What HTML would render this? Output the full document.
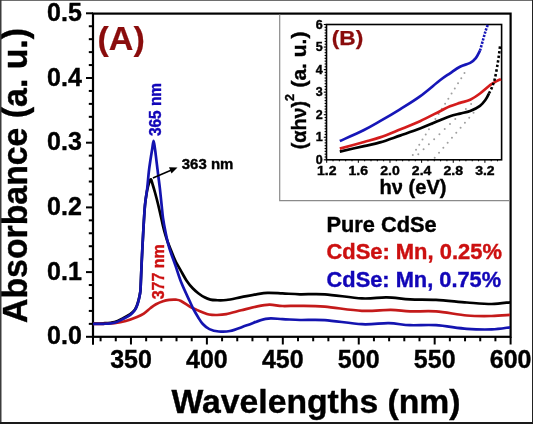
<!DOCTYPE html>
<html><head><meta charset="utf-8"><style>
html,body{margin:0;padding:0;background:#fff;}
body{width:533px;height:424px;overflow:hidden;position:relative;}
svg{position:absolute;left:0;top:0;will-change:transform;}
text{font-family:"Liberation Sans",sans-serif;font-weight:bold;stroke:#000;stroke-width:0.4px;}
</style></head><body>
<svg width="533" height="424" viewBox="0 0 533 424">
<rect x="0" y="0" width="533" height="424" fill="#fff"/>
<line x1="86" y1="336.80" x2="93.0" y2="336.80" stroke="#000" stroke-width="2"/>
<line x1="88.8" y1="323.86" x2="93.0" y2="323.86" stroke="#000" stroke-width="2"/>
<line x1="88.8" y1="310.92" x2="93.0" y2="310.92" stroke="#000" stroke-width="2"/>
<line x1="88.8" y1="297.98" x2="93.0" y2="297.98" stroke="#000" stroke-width="2"/>
<line x1="88.8" y1="285.04" x2="93.0" y2="285.04" stroke="#000" stroke-width="2"/>
<line x1="86" y1="272.10" x2="93.0" y2="272.10" stroke="#000" stroke-width="2"/>
<line x1="88.8" y1="259.16" x2="93.0" y2="259.16" stroke="#000" stroke-width="2"/>
<line x1="88.8" y1="246.22" x2="93.0" y2="246.22" stroke="#000" stroke-width="2"/>
<line x1="88.8" y1="233.28" x2="93.0" y2="233.28" stroke="#000" stroke-width="2"/>
<line x1="88.8" y1="220.34" x2="93.0" y2="220.34" stroke="#000" stroke-width="2"/>
<line x1="86" y1="207.40" x2="93.0" y2="207.40" stroke="#000" stroke-width="2"/>
<line x1="88.8" y1="194.46" x2="93.0" y2="194.46" stroke="#000" stroke-width="2"/>
<line x1="88.8" y1="181.52" x2="93.0" y2="181.52" stroke="#000" stroke-width="2"/>
<line x1="88.8" y1="168.58" x2="93.0" y2="168.58" stroke="#000" stroke-width="2"/>
<line x1="88.8" y1="155.64" x2="93.0" y2="155.64" stroke="#000" stroke-width="2"/>
<line x1="86" y1="142.70" x2="93.0" y2="142.70" stroke="#000" stroke-width="2"/>
<line x1="88.8" y1="129.76" x2="93.0" y2="129.76" stroke="#000" stroke-width="2"/>
<line x1="88.8" y1="116.82" x2="93.0" y2="116.82" stroke="#000" stroke-width="2"/>
<line x1="88.8" y1="103.88" x2="93.0" y2="103.88" stroke="#000" stroke-width="2"/>
<line x1="88.8" y1="90.94" x2="93.0" y2="90.94" stroke="#000" stroke-width="2"/>
<line x1="86" y1="78.00" x2="93.0" y2="78.00" stroke="#000" stroke-width="2"/>
<line x1="88.8" y1="65.06" x2="93.0" y2="65.06" stroke="#000" stroke-width="2"/>
<line x1="88.8" y1="52.12" x2="93.0" y2="52.12" stroke="#000" stroke-width="2"/>
<line x1="88.8" y1="39.18" x2="93.0" y2="39.18" stroke="#000" stroke-width="2"/>
<line x1="88.8" y1="26.24" x2="93.0" y2="26.24" stroke="#000" stroke-width="2"/>
<line x1="86" y1="13.30" x2="93.0" y2="13.30" stroke="#000" stroke-width="2"/>
<line x1="100.59" y1="336.8" x2="100.59" y2="341.3" stroke="#000" stroke-width="2"/>
<line x1="115.78" y1="336.8" x2="115.78" y2="341.3" stroke="#000" stroke-width="2"/>
<line x1="130.96" y1="336.8" x2="130.96" y2="344.5" stroke="#000" stroke-width="2"/>
<line x1="146.15" y1="336.8" x2="146.15" y2="341.3" stroke="#000" stroke-width="2"/>
<line x1="161.33" y1="336.8" x2="161.33" y2="341.3" stroke="#000" stroke-width="2"/>
<line x1="176.52" y1="336.8" x2="176.52" y2="341.3" stroke="#000" stroke-width="2"/>
<line x1="191.71" y1="336.8" x2="191.71" y2="341.3" stroke="#000" stroke-width="2"/>
<line x1="206.89" y1="336.8" x2="206.89" y2="344.5" stroke="#000" stroke-width="2"/>
<line x1="222.08" y1="336.8" x2="222.08" y2="341.3" stroke="#000" stroke-width="2"/>
<line x1="237.26" y1="336.8" x2="237.26" y2="341.3" stroke="#000" stroke-width="2"/>
<line x1="252.45" y1="336.8" x2="252.45" y2="341.3" stroke="#000" stroke-width="2"/>
<line x1="267.63" y1="336.8" x2="267.63" y2="341.3" stroke="#000" stroke-width="2"/>
<line x1="282.82" y1="336.8" x2="282.82" y2="344.5" stroke="#000" stroke-width="2"/>
<line x1="298.00" y1="336.8" x2="298.00" y2="341.3" stroke="#000" stroke-width="2"/>
<line x1="313.19" y1="336.8" x2="313.19" y2="341.3" stroke="#000" stroke-width="2"/>
<line x1="328.37" y1="336.8" x2="328.37" y2="341.3" stroke="#000" stroke-width="2"/>
<line x1="343.56" y1="336.8" x2="343.56" y2="341.3" stroke="#000" stroke-width="2"/>
<line x1="358.75" y1="336.8" x2="358.75" y2="344.5" stroke="#000" stroke-width="2"/>
<line x1="373.93" y1="336.8" x2="373.93" y2="341.3" stroke="#000" stroke-width="2"/>
<line x1="389.12" y1="336.8" x2="389.12" y2="341.3" stroke="#000" stroke-width="2"/>
<line x1="404.30" y1="336.8" x2="404.30" y2="341.3" stroke="#000" stroke-width="2"/>
<line x1="419.49" y1="336.8" x2="419.49" y2="341.3" stroke="#000" stroke-width="2"/>
<line x1="434.67" y1="336.8" x2="434.67" y2="344.5" stroke="#000" stroke-width="2"/>
<line x1="449.86" y1="336.8" x2="449.86" y2="341.3" stroke="#000" stroke-width="2"/>
<line x1="465.04" y1="336.8" x2="465.04" y2="341.3" stroke="#000" stroke-width="2"/>
<line x1="480.23" y1="336.8" x2="480.23" y2="341.3" stroke="#000" stroke-width="2"/>
<line x1="495.41" y1="336.8" x2="495.41" y2="341.3" stroke="#000" stroke-width="2"/>
<line x1="510.60" y1="336.8" x2="510.60" y2="344.5" stroke="#000" stroke-width="2"/>
<line x1="93.0" y1="336.8" x2="93.0" y2="344.8" stroke="#000" stroke-width="2"/>
<rect x="93.0" y="13.6" width="417.6" height="323.2" fill="none" stroke="#000" stroke-width="2.2"/>
<text x="81.8" y="344.4" text-anchor="end" font-size="25">0.0</text>
<text x="81.8" y="279.7" text-anchor="end" font-size="25">0.1</text>
<text x="81.8" y="215.0" text-anchor="end" font-size="25">0.2</text>
<text x="81.8" y="150.3" text-anchor="end" font-size="25">0.3</text>
<text x="81.8" y="85.6" text-anchor="end" font-size="25">0.4</text>
<text x="81.8" y="20.9" text-anchor="end" font-size="25">0.5</text>
<text x="131.0" y="368" text-anchor="middle" font-size="25">350</text>
<text x="206.9" y="368" text-anchor="middle" font-size="25">400</text>
<text x="282.8" y="368" text-anchor="middle" font-size="25">450</text>
<text x="358.7" y="368" text-anchor="middle" font-size="25">500</text>
<text x="434.7" y="368" text-anchor="middle" font-size="25">550</text>
<text x="510.6" y="368" text-anchor="middle" font-size="25">600</text>
<text x="171.5" y="412.7" font-size="33.6" textLength="289" lengthAdjust="spacingAndGlyphs">Wavelengths (nm)</text>
<text transform="translate(26.8,323) rotate(-90)" x="0" y="0" font-size="34.4" textLength="295" lengthAdjust="spacingAndGlyphs">Absorbance (a. u.)</text>
<path d="M93.00,323.50 C94.72,323.47 99.72,323.55 103.30,323.30 C106.88,323.05 111.13,322.88 114.50,322.00 C117.87,321.12 120.87,319.30 123.50,318.00 C126.13,316.70 128.42,315.57 130.30,314.20 C132.18,312.83 133.68,311.28 134.80,309.80 C135.92,308.32 136.35,307.00 137.00,305.30 C137.65,303.60 138.22,301.48 138.70,299.60 C139.18,297.72 139.58,295.93 139.90,294.00 C140.22,292.07 140.30,293.33 140.60,288.00 C140.90,282.67 141.25,271.50 141.70,262.00 C142.15,252.50 142.75,240.50 143.30,231.00 C143.85,221.50 144.38,211.67 145.00,205.00 C145.62,198.33 146.33,194.67 147.00,191.00 C147.67,187.33 148.35,184.95 149.00,183.00 C149.65,181.05 150.27,178.97 150.90,179.30 C151.53,179.63 152.12,182.80 152.80,185.00 C153.48,187.20 154.13,189.33 155.00,192.50 C155.87,195.67 157.00,199.92 158.00,204.00 C159.00,208.08 160.00,212.67 161.00,217.00 C162.00,221.33 163.00,226.17 164.00,230.00 C165.00,233.83 166.00,237.05 167.00,240.00 C168.00,242.95 169.05,245.28 170.00,247.70 C170.95,250.12 171.78,252.28 172.70,254.50 C173.62,256.72 174.13,258.28 175.50,261.00 C176.87,263.72 179.02,267.47 180.90,270.80 C182.78,274.13 184.83,278.08 186.80,281.00 C188.77,283.92 190.73,286.22 192.70,288.30 C194.67,290.38 196.63,292.00 198.60,293.50 C200.57,295.00 202.53,296.28 204.50,297.30 C206.47,298.32 208.48,299.12 210.40,299.60 C212.32,300.08 213.35,300.13 216.00,300.20 C218.65,300.27 222.08,300.50 226.30,300.00 C230.52,299.50 236.30,298.13 241.30,297.20 C246.30,296.27 251.93,295.12 256.30,294.40 C260.67,293.68 263.13,293.07 267.50,292.90 C271.87,292.73 277.08,293.17 282.50,293.40 C287.92,293.63 292.95,294.15 300.00,294.30 C307.05,294.45 314.48,293.62 324.80,294.30 C335.12,294.98 351.58,297.88 361.90,298.40 C372.22,298.92 378.68,297.23 386.70,297.40 C394.72,297.57 401.78,298.98 410.00,299.40 C418.22,299.82 426.52,299.38 436.00,299.90 C445.48,300.42 457.62,301.82 466.90,302.50 C476.18,303.18 484.52,304.03 491.70,304.00 C498.88,303.97 506.95,302.58 510.00,302.30" fill="none" stroke="#000" stroke-width="2.7" stroke-linejoin="round"/>
<path d="M93.00,323.80 C94.72,323.80 99.72,323.90 103.30,323.80 C106.88,323.70 110.75,323.67 114.50,323.20 C118.25,322.73 122.05,322.03 125.80,321.00 C129.55,319.97 134.00,318.23 137.00,317.00 C140.00,315.77 141.53,315.10 143.80,313.60 C146.07,312.10 148.57,309.55 150.60,308.00 C152.63,306.45 153.93,305.42 156.00,304.30 C158.07,303.18 160.80,302.03 163.00,301.30 C165.20,300.57 167.03,300.17 169.20,299.90 C171.37,299.63 174.03,299.52 176.00,299.70 C177.97,299.88 178.57,299.78 181.00,301.00 C183.43,302.22 188.10,305.58 190.60,307.00 C193.10,308.42 193.93,308.58 196.00,309.50 C198.07,310.42 200.83,311.67 203.00,312.50 C205.17,313.33 206.68,314.08 209.00,314.50 C211.32,314.92 214.02,315.07 216.90,315.00 C219.78,314.93 222.23,314.88 226.30,314.10 C230.37,313.32 236.30,311.55 241.30,310.30 C246.30,309.05 251.62,307.53 256.30,306.60 C260.98,305.67 265.03,304.80 269.40,304.70 C273.77,304.60 277.40,305.82 282.50,306.00 C287.60,306.18 292.95,305.68 300.00,305.80 C307.05,305.92 314.48,305.87 324.80,306.70 C335.12,307.53 350.90,310.28 361.90,310.80 C372.90,311.32 382.78,309.70 390.80,309.80 C398.82,309.90 402.47,311.13 410.00,311.40 C417.53,311.67 426.52,310.72 436.00,311.40 C445.48,312.08 457.62,314.73 466.90,315.50 C476.18,316.27 484.52,316.10 491.70,316.00 C498.88,315.90 506.95,315.08 510.00,314.90" fill="none" stroke="#c41a1a" stroke-width="2.7" stroke-linejoin="round"/>
<path d="M93.00,323.80 C94.72,323.80 99.72,323.98 103.30,323.80 C106.88,323.62 111.13,323.55 114.50,322.70 C117.87,321.85 120.87,320.02 123.50,318.70 C126.13,317.38 128.42,316.20 130.30,314.80 C132.18,313.40 133.68,311.80 134.80,310.30 C135.92,308.80 136.35,307.50 137.00,305.80 C137.65,304.10 138.22,301.98 138.70,300.10 C139.18,298.22 139.58,296.52 139.90,294.50 C140.22,292.48 140.30,293.42 140.60,288.00 C140.90,282.58 141.25,271.50 141.70,262.00 C142.15,252.50 142.75,240.50 143.30,231.00 C143.85,221.50 144.35,212.07 145.00,205.00 C145.65,197.93 146.57,194.10 147.20,188.60 C147.83,183.10 148.27,176.72 148.80,172.00 C149.33,167.28 149.83,164.13 150.40,160.30 C150.97,156.47 151.67,152.25 152.20,149.00 C152.73,145.75 153.13,140.80 153.60,140.80 C154.07,140.80 154.53,145.75 155.00,149.00 C155.47,152.25 155.87,155.97 156.40,160.30 C156.93,164.63 157.62,170.28 158.20,175.00 C158.78,179.72 159.35,183.77 159.90,188.60 C160.45,193.43 160.98,199.10 161.50,204.00 C162.02,208.90 162.33,213.33 163.00,218.00 C163.67,222.67 164.47,227.05 165.50,232.00 C166.53,236.95 167.55,242.13 169.20,247.70 C170.85,253.27 173.35,259.50 175.40,265.40 C177.45,271.30 179.15,277.20 181.50,283.10 C183.85,289.00 187.52,296.48 189.50,300.80 C191.48,305.12 191.98,306.30 193.40,309.00 C194.82,311.70 196.43,314.50 198.00,317.00 C199.57,319.50 200.90,321.98 202.80,324.00 C204.70,326.02 206.73,327.85 209.40,329.10 C212.07,330.35 215.37,331.18 218.80,331.50 C222.23,331.82 225.32,332.03 230.00,331.00 C234.68,329.97 240.95,327.33 246.90,325.30 C252.85,323.27 259.77,319.83 265.70,318.80 C271.63,317.77 276.78,318.90 282.50,319.10 C288.22,319.30 292.95,319.83 300.00,320.00 C307.05,320.17 314.48,319.40 324.80,320.10 C335.12,320.80 351.23,323.68 361.90,324.20 C372.57,324.72 380.78,323.03 388.80,323.20 C396.82,323.37 402.13,324.87 410.00,325.20 C417.87,325.53 426.52,324.60 436.00,325.20 C445.48,325.80 457.62,328.10 466.90,328.80 C476.18,329.50 484.52,329.65 491.70,329.40 C498.88,329.15 506.95,327.65 510.00,327.30" fill="none" stroke="#1414b0" stroke-width="2.7" stroke-linejoin="round"/>
<text x="97.5" y="49.6" font-size="33" fill="#8a0c0c" style="stroke:#8a0c0c;stroke-width:0.2px" textLength="47.3" lengthAdjust="spacingAndGlyphs">(A)</text>
<text transform="translate(160.6,136) rotate(-90)" font-size="16.3" fill="#1206b8" style="stroke:#1206b8" textLength="53" lengthAdjust="spacingAndGlyphs">365 nm</text>
<text transform="translate(163.9,299.3) rotate(-90)" font-size="16.3" fill="#cc1010" style="stroke:#cc1010" textLength="55" lengthAdjust="spacingAndGlyphs">377 nm</text>
<text x="181.8" y="168.8" font-size="14.8" textLength="51.5" lengthAdjust="spacingAndGlyphs">363 nm</text>
<line x1="152.9" y1="178" x2="171" y2="170.3" stroke="#000" stroke-width="1.5"/>
<polygon points="177.5,167.5 169,167.2 171.5,173.5" fill="#000"/>
<text x="326.4" y="231.7" font-size="21.6" textLength="110.2" lengthAdjust="spacingAndGlyphs">Pure CdSe</text>
<text x="326.4" y="258.7" font-size="21.6" fill="#cc1010" style="stroke:#cc1010" textLength="175.5" lengthAdjust="spacingAndGlyphs">CdSe: Mn, 0.25%</text>
<text x="326.6" y="287" font-size="21.6" fill="#1206b8" style="stroke:#1206b8" textLength="174.5" lengthAdjust="spacingAndGlyphs">CdSe: Mn, 0.75%</text>
<polyline points="279.7,14.5 279.7,200.7 509.5,200.7" fill="none" stroke="#8a8a8a" stroke-width="1.2"/>
<line x1="323.8" y1="159.80" x2="326.5" y2="159.80" stroke="#000" stroke-width="1.1"/>
<line x1="324.6" y1="156.98" x2="326.5" y2="156.98" stroke="#000" stroke-width="1.1"/>
<line x1="324.6" y1="154.16" x2="326.5" y2="154.16" stroke="#000" stroke-width="1.1"/>
<line x1="324.6" y1="151.34" x2="326.5" y2="151.34" stroke="#000" stroke-width="1.1"/>
<line x1="324.6" y1="148.53" x2="326.5" y2="148.53" stroke="#000" stroke-width="1.1"/>
<line x1="324.6" y1="145.71" x2="326.5" y2="145.71" stroke="#000" stroke-width="1.1"/>
<line x1="324.6" y1="142.89" x2="326.5" y2="142.89" stroke="#000" stroke-width="1.1"/>
<line x1="324.6" y1="140.07" x2="326.5" y2="140.07" stroke="#000" stroke-width="1.1"/>
<line x1="323.8" y1="137.25" x2="326.5" y2="137.25" stroke="#000" stroke-width="1.1"/>
<line x1="324.6" y1="134.43" x2="326.5" y2="134.43" stroke="#000" stroke-width="1.1"/>
<line x1="324.6" y1="131.61" x2="326.5" y2="131.61" stroke="#000" stroke-width="1.1"/>
<line x1="324.6" y1="128.79" x2="326.5" y2="128.79" stroke="#000" stroke-width="1.1"/>
<line x1="324.6" y1="125.98" x2="326.5" y2="125.98" stroke="#000" stroke-width="1.1"/>
<line x1="324.6" y1="123.16" x2="326.5" y2="123.16" stroke="#000" stroke-width="1.1"/>
<line x1="324.6" y1="120.34" x2="326.5" y2="120.34" stroke="#000" stroke-width="1.1"/>
<line x1="324.6" y1="117.52" x2="326.5" y2="117.52" stroke="#000" stroke-width="1.1"/>
<line x1="323.8" y1="114.70" x2="326.5" y2="114.70" stroke="#000" stroke-width="1.1"/>
<line x1="324.6" y1="111.88" x2="326.5" y2="111.88" stroke="#000" stroke-width="1.1"/>
<line x1="324.6" y1="109.06" x2="326.5" y2="109.06" stroke="#000" stroke-width="1.1"/>
<line x1="324.6" y1="106.24" x2="326.5" y2="106.24" stroke="#000" stroke-width="1.1"/>
<line x1="324.6" y1="103.43" x2="326.5" y2="103.43" stroke="#000" stroke-width="1.1"/>
<line x1="324.6" y1="100.61" x2="326.5" y2="100.61" stroke="#000" stroke-width="1.1"/>
<line x1="324.6" y1="97.79" x2="326.5" y2="97.79" stroke="#000" stroke-width="1.1"/>
<line x1="324.6" y1="94.97" x2="326.5" y2="94.97" stroke="#000" stroke-width="1.1"/>
<line x1="323.8" y1="92.15" x2="326.5" y2="92.15" stroke="#000" stroke-width="1.1"/>
<line x1="324.6" y1="89.33" x2="326.5" y2="89.33" stroke="#000" stroke-width="1.1"/>
<line x1="324.6" y1="86.51" x2="326.5" y2="86.51" stroke="#000" stroke-width="1.1"/>
<line x1="324.6" y1="83.69" x2="326.5" y2="83.69" stroke="#000" stroke-width="1.1"/>
<line x1="324.6" y1="80.88" x2="326.5" y2="80.88" stroke="#000" stroke-width="1.1"/>
<line x1="324.6" y1="78.06" x2="326.5" y2="78.06" stroke="#000" stroke-width="1.1"/>
<line x1="324.6" y1="75.24" x2="326.5" y2="75.24" stroke="#000" stroke-width="1.1"/>
<line x1="324.6" y1="72.42" x2="326.5" y2="72.42" stroke="#000" stroke-width="1.1"/>
<line x1="323.8" y1="69.60" x2="326.5" y2="69.60" stroke="#000" stroke-width="1.1"/>
<line x1="324.6" y1="66.78" x2="326.5" y2="66.78" stroke="#000" stroke-width="1.1"/>
<line x1="324.6" y1="63.96" x2="326.5" y2="63.96" stroke="#000" stroke-width="1.1"/>
<line x1="324.6" y1="61.14" x2="326.5" y2="61.14" stroke="#000" stroke-width="1.1"/>
<line x1="324.6" y1="58.33" x2="326.5" y2="58.33" stroke="#000" stroke-width="1.1"/>
<line x1="324.6" y1="55.51" x2="326.5" y2="55.51" stroke="#000" stroke-width="1.1"/>
<line x1="324.6" y1="52.69" x2="326.5" y2="52.69" stroke="#000" stroke-width="1.1"/>
<line x1="324.6" y1="49.87" x2="326.5" y2="49.87" stroke="#000" stroke-width="1.1"/>
<line x1="323.8" y1="47.05" x2="326.5" y2="47.05" stroke="#000" stroke-width="1.1"/>
<line x1="324.6" y1="44.23" x2="326.5" y2="44.23" stroke="#000" stroke-width="1.1"/>
<line x1="324.6" y1="41.41" x2="326.5" y2="41.41" stroke="#000" stroke-width="1.1"/>
<line x1="324.6" y1="38.59" x2="326.5" y2="38.59" stroke="#000" stroke-width="1.1"/>
<line x1="324.6" y1="35.77" x2="326.5" y2="35.77" stroke="#000" stroke-width="1.1"/>
<line x1="324.6" y1="32.96" x2="326.5" y2="32.96" stroke="#000" stroke-width="1.1"/>
<line x1="324.6" y1="30.14" x2="326.5" y2="30.14" stroke="#000" stroke-width="1.1"/>
<line x1="324.6" y1="27.32" x2="326.5" y2="27.32" stroke="#000" stroke-width="1.1"/>
<line x1="323.8" y1="24.50" x2="326.5" y2="24.50" stroke="#000" stroke-width="1.1"/>
<line x1="326.70" y1="159.8" x2="326.70" y2="162.8" stroke="#000" stroke-width="1"/>
<line x1="333.03" y1="159.8" x2="333.03" y2="161.3" stroke="#000" stroke-width="1"/>
<line x1="339.36" y1="159.8" x2="339.36" y2="161.3" stroke="#000" stroke-width="1"/>
<line x1="345.68" y1="159.8" x2="345.68" y2="161.3" stroke="#000" stroke-width="1"/>
<line x1="352.01" y1="159.8" x2="352.01" y2="161.3" stroke="#000" stroke-width="1"/>
<line x1="358.34" y1="159.8" x2="358.34" y2="162.8" stroke="#000" stroke-width="1"/>
<line x1="364.67" y1="159.8" x2="364.67" y2="161.3" stroke="#000" stroke-width="1"/>
<line x1="371.00" y1="159.8" x2="371.00" y2="161.3" stroke="#000" stroke-width="1"/>
<line x1="377.32" y1="159.8" x2="377.32" y2="161.3" stroke="#000" stroke-width="1"/>
<line x1="383.65" y1="159.8" x2="383.65" y2="161.3" stroke="#000" stroke-width="1"/>
<line x1="389.98" y1="159.8" x2="389.98" y2="162.8" stroke="#000" stroke-width="1"/>
<line x1="396.31" y1="159.8" x2="396.31" y2="161.3" stroke="#000" stroke-width="1"/>
<line x1="402.64" y1="159.8" x2="402.64" y2="161.3" stroke="#000" stroke-width="1"/>
<line x1="408.96" y1="159.8" x2="408.96" y2="161.3" stroke="#000" stroke-width="1"/>
<line x1="415.29" y1="159.8" x2="415.29" y2="161.3" stroke="#000" stroke-width="1"/>
<line x1="421.62" y1="159.8" x2="421.62" y2="162.8" stroke="#000" stroke-width="1"/>
<line x1="427.95" y1="159.8" x2="427.95" y2="161.3" stroke="#000" stroke-width="1"/>
<line x1="434.28" y1="159.8" x2="434.28" y2="161.3" stroke="#000" stroke-width="1"/>
<line x1="440.60" y1="159.8" x2="440.60" y2="161.3" stroke="#000" stroke-width="1"/>
<line x1="446.93" y1="159.8" x2="446.93" y2="161.3" stroke="#000" stroke-width="1"/>
<line x1="453.26" y1="159.8" x2="453.26" y2="162.8" stroke="#000" stroke-width="1"/>
<line x1="459.59" y1="159.8" x2="459.59" y2="161.3" stroke="#000" stroke-width="1"/>
<line x1="465.92" y1="159.8" x2="465.92" y2="161.3" stroke="#000" stroke-width="1"/>
<line x1="472.24" y1="159.8" x2="472.24" y2="161.3" stroke="#000" stroke-width="1"/>
<line x1="478.57" y1="159.8" x2="478.57" y2="161.3" stroke="#000" stroke-width="1"/>
<line x1="484.90" y1="159.8" x2="484.90" y2="162.8" stroke="#000" stroke-width="1"/>
<line x1="491.23" y1="159.8" x2="491.23" y2="161.3" stroke="#000" stroke-width="1"/>
<line x1="497.56" y1="159.8" x2="497.56" y2="161.3" stroke="#000" stroke-width="1"/>
<rect x="326.5" y="24.5" width="175.1" height="135.3" fill="none" stroke="#000" stroke-width="1.6"/>
<text x="322.6" y="163.8" text-anchor="end" font-size="12.5">0</text>
<text x="322.6" y="141.2" text-anchor="end" font-size="12.5">1</text>
<text x="322.6" y="118.7" text-anchor="end" font-size="12.5">2</text>
<text x="322.6" y="96.2" text-anchor="end" font-size="12.5">3</text>
<text x="322.6" y="73.6" text-anchor="end" font-size="12.5">4</text>
<text x="322.6" y="51.1" text-anchor="end" font-size="12.5">5</text>
<text x="322.6" y="28.5" text-anchor="end" font-size="12.5">6</text>
<text x="326.7" y="174.9" text-anchor="middle" font-size="13" textLength="19.5" lengthAdjust="spacingAndGlyphs">1.2</text>
<text x="358.3" y="174.9" text-anchor="middle" font-size="13" textLength="19.5" lengthAdjust="spacingAndGlyphs">1.6</text>
<text x="390.0" y="174.9" text-anchor="middle" font-size="13" textLength="19.5" lengthAdjust="spacingAndGlyphs">2.0</text>
<text x="421.6" y="174.9" text-anchor="middle" font-size="13" textLength="19.5" lengthAdjust="spacingAndGlyphs">2.4</text>
<text x="453.3" y="174.9" text-anchor="middle" font-size="13" textLength="19.5" lengthAdjust="spacingAndGlyphs">2.8</text>
<text x="484.9" y="174.9" text-anchor="middle" font-size="13" textLength="19.5" lengthAdjust="spacingAndGlyphs">3.2</text>
<text x="379.5" y="193.8" font-size="20" textLength="67" lengthAdjust="spacingAndGlyphs">h&#957; (eV)</text>
<text transform="translate(305.5,149.3) rotate(-90)" font-size="20" textLength="48.5" lengthAdjust="spacingAndGlyphs">(&#945;h&#957;)</text>
<text transform="translate(294.2,101) rotate(-90)" font-size="12.5">2</text>
<text transform="translate(305.5,87.6) rotate(-90)" font-size="20" textLength="56" lengthAdjust="spacingAndGlyphs">(a. u.)</text>
<text x="331.8" y="44.6" font-size="20.3" fill="#8a0c0c" style="stroke:#8a0c0c;stroke-width:0.25px" textLength="31.5" lengthAdjust="spacingAndGlyphs">(B)</text>
<line x1="412.8" y1="154.9" x2="467.5" y2="68.3" stroke="#a0a0a0" stroke-width="2" stroke-dasharray="0 6.05" stroke-linecap="round"/>
<line x1="418.3" y1="154.3" x2="471.8" y2="103.3" stroke="#a0a0a0" stroke-width="2" stroke-dasharray="0 7.3" stroke-linecap="round"/>
<line x1="434.7" y1="157.8" x2="474.3" y2="112" stroke="#a0a0a0" stroke-width="2" stroke-dasharray="0 6.6" stroke-linecap="round"/>
<path d="M339.80,151.60 C343.83,150.68 357.30,147.63 364.00,146.10 C370.70,144.57 374.00,144.15 380.00,142.40 C386.00,140.65 393.33,137.90 400.00,135.60 C406.67,133.30 413.33,131.17 420.00,128.60 C426.67,126.03 435.00,122.25 440.00,120.20 C445.00,118.15 446.67,117.40 450.00,116.30 C453.33,115.20 456.63,114.48 460.00,113.60 C463.37,112.72 466.87,112.30 470.20,111.00 C473.53,109.70 477.45,107.67 480.00,105.80 C482.55,103.93 484.00,101.87 485.50,99.80 C487.00,97.73 488.42,94.47 489.00,93.40" fill="none" stroke="#000" stroke-width="2.7" stroke-linejoin="round"/>
<path d="M339.80,148.60 C343.83,147.50 357.30,143.87 364.00,142.00 C370.70,140.13 374.00,139.48 380.00,137.40 C386.00,135.32 393.33,132.20 400.00,129.50 C406.67,126.80 413.33,124.25 420.00,121.20 C426.67,118.15 435.00,113.68 440.00,111.20 C445.00,108.72 446.67,107.68 450.00,106.30 C453.33,104.92 456.63,104.00 460.00,102.90 C463.37,101.80 466.87,101.27 470.20,99.70 C473.53,98.13 476.63,95.97 480.00,93.50 C483.37,91.03 487.72,86.92 490.40,84.90 C493.08,82.88 494.33,82.35 496.10,81.40 C497.87,80.45 500.18,79.57 501.00,79.20" fill="none" stroke="#d41c1c" stroke-width="2.7" stroke-linejoin="round"/>
<path d="M339.80,141.10 C343.83,139.25 357.30,133.32 364.00,130.00 C370.70,126.68 374.00,124.65 380.00,121.20 C386.00,117.75 393.33,113.43 400.00,109.30 C406.67,105.17 413.33,101.23 420.00,96.40 C426.67,91.57 435.00,84.15 440.00,80.30 C445.00,76.45 446.67,75.57 450.00,73.30 C453.33,71.03 456.63,68.43 460.00,66.70 C463.37,64.97 467.57,64.32 470.20,62.90 C472.83,61.48 474.17,60.23 475.80,58.20 C477.43,56.17 479.30,51.95 480.00,50.70" fill="none" stroke="#1616b8" stroke-width="2.7" stroke-linejoin="round"/>
<path d="M480.00,50.70 C480.50,48.92 482.08,43.23 483.00,40.00 C483.92,36.77 484.68,33.88 485.50,31.30 C486.32,28.72 487.50,25.63 487.90,24.50" fill="none" stroke="#1616b8" stroke-width="2.6" stroke-dasharray="2.2 1.3"/>
<path d="M489.00,93.40 C489.47,92.45 490.85,90.07 491.80,87.70 C492.75,85.33 493.77,82.93 494.70,79.20 C495.63,75.47 496.65,69.67 497.40,65.30 C498.15,60.93 498.73,56.47 499.20,53.00 C499.67,49.53 500.03,45.92 500.20,44.50" fill="none" stroke="#000" stroke-width="2.6" stroke-dasharray="2.4 2.2"/>
<line x1="0" y1="0.5" x2="533" y2="0.5" stroke="#6e6e6e" stroke-width="1"/>
<line x1="0.75" y1="0" x2="0.75" y2="424" stroke="#3c3c3c" stroke-width="1.5"/>
<line x1="532.5" y1="0" x2="532.5" y2="424" stroke="#222" stroke-width="1"/>
<line x1="0" y1="423" x2="533" y2="423" stroke="#1a1a1a" stroke-width="2"/>
</svg>
</body></html>
